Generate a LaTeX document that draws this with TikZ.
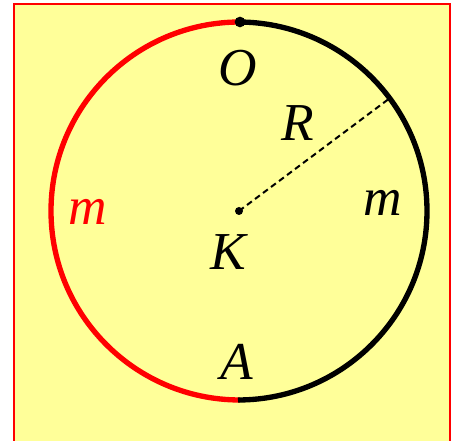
\documentclass[tikz,border=0pt]{standalone}
\usepackage{fontspec}
\setmainfont{Liberation Serif}
\definecolor{bgyellow}{RGB}{255,255,153}
\tikzstyle{label} = [font=\fontsize{40}{42}\selectfont\itshape, inner sep=0pt]
\tikzstyle{halfarc} = [line width=4pt]
\tikzstyle{dot} = [circle, fill=black, inner sep=0pt]

\begin{document}
\begin{tikzpicture}[x=0.75pt, y=0.75pt]
	\useasboundingbox (0,0) rectangle (458,441);
	
	% Latar
	\fill [bgyellow] (14,0) rectangle (450,437);
	\draw [red, line width=1.5pt] (14,0) -- (14,437) -- (450,437) -- (450,0);
	
	% Titik-titik
	\coordinate (K) at (239,230);
	\coordinate (O) at (240,419);
	\coordinate (A) at (238,41);
	\coordinate (P) at ([shift={(36.8:189)}]K);
	
	% Lingkaran (dua setengah busur)
	\draw [halfarc, red] (O) arc[start angle=90, end angle=270, radius=189];
	\draw [halfarc, black] (A) arc[start angle=-90, end angle=90, radius=189];
	
	% Jari-jari
	\draw [dashed, line width=1.5pt, dash pattern=on 4.5pt off 3pt] (K) -- (P);
	\node (dotO) [dot, minimum size=8pt] at (O) {};
	\node (dotK) [dot, minimum size=6pt] at (K) {};
	
	% Label
	\node (lO) [label] at (238,373) {O};
	\node (lR) [label] at (298,318) {R};
	\node (lK) [label] at (228,189) {K};
	\node (lA) [label] at (237,79) {A};
	\node (mL) [label, red] at (88,229) {m};
	\node (mR) [label] at (383,238) {m};
	
\end{tikzpicture}
\end{document}
